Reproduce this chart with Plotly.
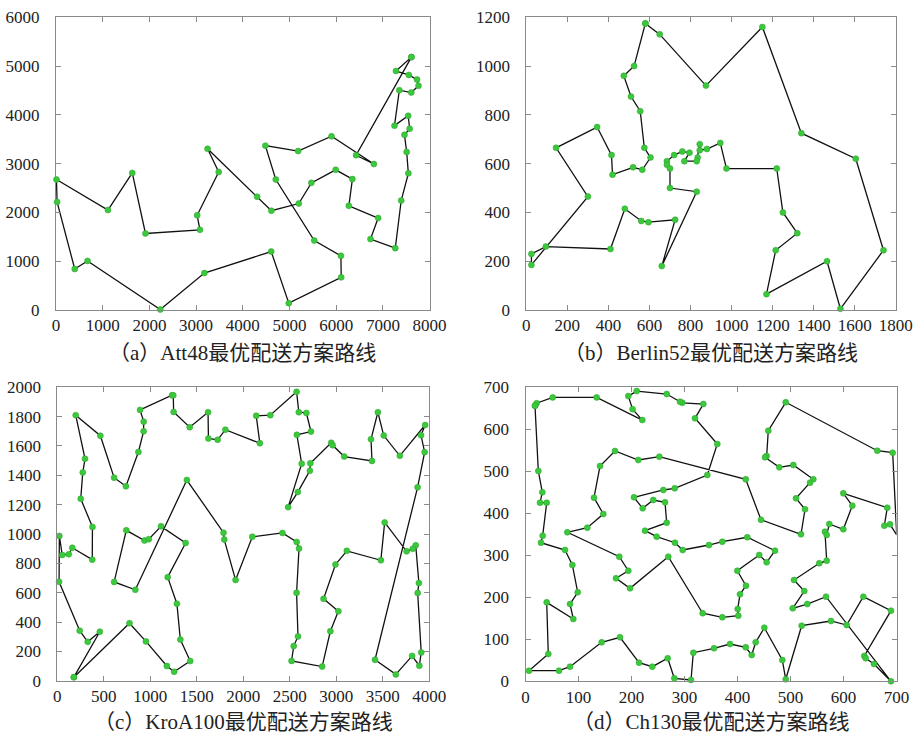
import plotly.graph_objects as go

# ---------------- (a) Att48 : node coordinates (index order) and route ----------------
att48_x = [6734, 2233, 5530, 401, 3082, 7608, 7573, 7265, 6898, 1112, 5468, 5989, 4706, 4612, 6347, 6107,
           7611, 7462, 7732, 5900, 4483, 6101, 5199, 1633, 4307, 675, 7555, 7541, 3177, 7352, 7545, 3245,
           6426, 4608, 23, 7248, 7762, 7392, 3484, 6271, 4985, 1916, 7280, 7509, 10, 6807, 5185, 3023]
att48_y = [1453, 10, 1424, 841, 1644, 4458, 3716, 1268, 1885, 2049, 2606, 2873, 2674, 2035, 2683, 669,
           5184, 3590, 4723, 3561, 3369, 1110, 2182, 2809, 2322, 1006, 4819, 3981, 756, 4506, 2801, 3305,
           3173, 1198, 2216, 3779, 4595, 2244, 2829, 2135, 140, 1569, 4899, 3239, 2676, 2993, 3258, 1942]
att48_route = [17, 43, 27, 19, 37, 6, 30, 36, 28, 7, 18, 44, 31, 38, 8, 1, 9, 40, 15, 12, 11, 23, 14, 25,
               32, 39, 48, 5, 42, 24, 10, 45, 35, 4, 26, 2, 29, 34, 41, 16, 22, 3, 13, 21, 47, 20, 46, 33]

# ---------------- (b) Berlin52 ----------------
berlin_x = [565, 25, 345, 945, 845, 880, 25, 525, 580, 650, 1605, 1220, 1465, 1530, 845, 725, 145, 415,
            510, 560, 300, 520, 480, 835, 975, 1215, 1320, 1250, 660, 410, 420, 575, 1150, 700, 685, 685,
            770, 795, 720, 760, 475, 95, 875, 700, 555, 830, 1170, 830, 605, 595, 1340, 1740]
berlin_y = [575, 185, 750, 685, 655, 660, 230, 1000, 1175, 1130, 620, 580, 200, 5, 680, 370, 665, 635,
            875, 365, 465, 585, 415, 625, 580, 245, 315, 400, 180, 250, 555, 665, 1160, 580, 595, 610,
            610, 645, 635, 650, 960, 260, 920, 500, 815, 485, 65, 610, 625, 360, 725, 245]
berlin_route = [9, 10, 43, 33, 51, 11, 52, 14, 13, 47, 26, 27, 28, 12, 25, 4, 6, 5, 15, 24, 48, 37, 38,
                40, 39, 36, 35, 34, 44, 46, 29, 16, 50, 20, 23, 30, 42, 7, 2, 21, 17, 3, 18, 31, 22, 1,
                49, 32, 45, 19, 41, 8]

# ---------------- (c) KroA100 ----------------
kro_x = [1380, 2848, 3510, 457, 3888, 984, 2721, 1286, 2716, 738, 1251, 2728, 3815, 3683, 1247, 123,
         1234, 252, 611, 2576, 928, 53, 1807, 274, 2574, 178, 2678, 1795, 3384, 3520, 1256, 1424, 3913,
         3085, 2573, 463, 3875, 298, 3479, 2542, 3955, 1323, 3447, 2936, 1621, 3373, 1393, 3874, 938,
         3022, 2482, 3854, 376, 2519, 2945, 953, 2628, 2097, 890, 2139, 2421, 2290, 1115, 2588, 327,
         241, 1917, 2991, 2573, 19, 3911, 872, 2863, 929, 839, 3893, 2178, 3822, 378, 1178, 2599, 3416,
         2961, 611, 3113, 2597, 2586, 161, 1429, 742, 1625, 1187, 1787, 22, 3640, 3756, 776, 1724, 198,
         3950]
kro_y = [939, 96, 1671, 334, 666, 965, 1482, 525, 1432, 1325, 1832, 1698, 169, 1533, 1945, 862, 1946,
         1240, 673, 1676, 1700, 857, 1711, 1420, 946, 24, 1825, 962, 1498, 1079, 61, 1728, 192, 1528,
         1969, 1670, 598, 1513, 821, 236, 1743, 280, 1830, 337, 1830, 1646, 1368, 1318, 955, 474, 1183,
         923, 825, 135, 1622, 268, 1479, 981, 1846, 1806, 1007, 1810, 1052, 302, 265, 341, 687, 792,
         599, 674, 1673, 1559, 558, 1766, 620, 102, 1619, 899, 1048, 100, 901, 143, 1605, 1384, 885,
         1830, 1286, 906, 134, 1025, 1651, 706, 1009, 987, 43, 882, 392, 1642, 1810, 1558]
kro_route = [26, 4, 65, 66, 70, 94, 22, 16, 88, 53, 79, 18, 24, 38, 99, 36, 84, 10, 72, 21, 74, 59, 17,
             15, 11, 32, 45, 91, 98, 23, 77, 60, 62, 35, 86, 27, 12, 20, 57, 51, 87, 9, 7, 55, 83, 34,
             29, 46, 43, 3, 14, 41, 71, 100, 48, 82, 95, 13, 76, 33, 37, 5, 52, 78, 96, 30, 39, 85, 68,
             73, 50, 44, 2, 54, 40, 64, 69, 81, 25, 61, 58, 67, 28, 93, 47, 75, 19, 90, 49, 6, 63, 1,
             92, 8, 42, 89, 31, 80, 56, 97]

# ---------------- (d) Ch130 (route order) ----------------
ch_x = [17.9, 24.2, 31.7, 27.4, 40, 32.4, 29.2, 74.5, 88.4, 98.5, 84, 90.2, 40, 43, 6.6, 63.2, 84,
        143.7, 178.3, 214.2, 239.3, 268.3, 280.8, 312.3, 316.6, 355.7, 385.8, 415.5, 426.8, 434.3,
        450.6, 484.5, 491, 521.1, 576.4, 606, 637.4, 689.6, 639.2, 641.9, 657.5, 689.6, 567, 531.7,
        504.2, 526, 506.6, 554.3, 568.3, 565, 568.3, 573.2, 599.6, 616.6, 599.6, 682.6, 677, 687.7,
        700.4, 692.8, 663.8, 491, 458.1, 455, 451.9, 478.9, 505.3, 543, 536.8, 510.4, 527.4, 519.8,
        444.3, 415.5, 252.5, 212.8, 168.9, 140.6, 129.2, 146.8, 116.6, 78.9, 177, 194, 170.8, 197.2,
        269.4, 334.3, 371.3, 401.5, 400.4, 404.7, 416, 399.6, 441, 455, 470.8, 418.5, 371.3, 346.2,
        296.6, 282, 247.5, 225.5, 266.4, 263.2, 241.1, 221.1, 204.7, 260, 281.5, 343, 361.9, 319.8,
        335.5, 295.8, 291.5, 266.4, 209.8, 194, 202, 220.4, 134.3, 51.3, 21]
ch_y = [656.2, 500.7, 450, 425.2, 425.2, 346.7, 330, 312.6, 277, 212, 184, 148.3, 188, 65, 25.2, 25.2,
        34.8, 92.8, 104.8, 44.3, 34.8, 54.8, 7.1, 3.1, 68.1, 78.6, 88.8, 80.9, 62.6, 92.8,
        127.6, 50.7, 4.8, 132.4, 143.6, 134, 201.4, 168.1, 60.2, 54.8, 41.2, 0, 201.4, 184,
        173.8, 215, 241.2, 281, 287.2, 356.2, 348.3, 374.5, 361.9, 418.1, 447.6, 413.3, 370.5, 373.8,
        348.3, 544.3, 549, 664.3, 596.7, 536.4, 533.3, 509.5, 515, 480.9, 472.9, 435.7, 409.5, 350,
        384.5, 480.9, 534.8, 526.9, 548.3, 512.6, 437.2, 398.3, 365.7, 354.8, 296.7, 263.3, 245.2, 221.4,
        296.7, 162, 152.4, 156.2, 172.1, 207.1, 227.6, 263.3, 300.7, 283.3, 311, 342.9, 332.4, 324.5,
        312.6, 330, 344.3, 358.6, 377.6, 426.2, 431.7, 411.9, 438.1, 455.5, 459.5, 491.2, 565, 626.2,
        660.2, 663, 665.7, 684, 691, 679, 648, 622, 676, 676, 662]

captions = ["（a）Att48最优配送方案路线", "（b）Berlin52最优配送方案路线",
            "（c）KroA100最优配送方案路线", "（d）Ch130最优配送方案路线"]


def route_xy(xs, ys, route):
    rx = [xs[i - 1] for i in route] + [xs[route[0] - 1]]
    ry = [ys[i - 1] for i in route] + [ys[route[0] - 1]]
    return rx, ry


W, H = 920, 734
# pixel boxes of the four axes (left, right, top, bottom)
boxes = [(56.0, 429.6, 17.3, 310.0), (526.3, 895.8, 17.3, 310.0),
         (57.3, 429.3, 387.3, 680.7), (525.5, 896.5, 387.3, 681.3)]
ranges = [((0, 8000), 1000, (0, 6000), 1000), ((0, 1800), 200, (0, 1200), 200),
          ((0, 4000), 500, (0, 2000), 200), ((0, 700), 100, (0, 700), 100)]

series = [route_xy(att48_x, att48_y, att48_route),
          route_xy(berlin_x, berlin_y, berlin_route),
          route_xy(kro_x, kro_y, kro_route),
          (ch_x + [ch_x[0]], ch_y + [ch_y[0]])]

fig = go.Figure()
tickfont = dict(family="Liberation Serif, Times New Roman, serif", size=17, color="#222222")
axis_color = "#8a8a8a"
for k in range(4):
    sx, sy = series[k]
    xa = "x" if k == 0 else f"x{k+1}"
    ya = "y" if k == 0 else f"y{k+1}"
    fig.add_trace(go.Scatter(x=sx, y=sy, mode="lines+markers", xaxis=xa, yaxis=ya,
                             line=dict(color="#111111", width=1.3),
                             marker=dict(color="#3cc83c", size=6,
                                         line=dict(color="#2aa02a", width=0.5)),
                             showlegend=False, hoverinfo="skip", cliponaxis=False))
    l, r, t, b = boxes[k]
    (xr, xd, yr, yd) = ranges[k]
    xname = "xaxis" if k == 0 else f"xaxis{k+1}"
    yname = "yaxis" if k == 0 else f"yaxis{k+1}"
    fig.layout[xname] = dict(domain=[l / W, r / W], range=list(xr), dtick=xd, tick0=0,
                             anchor=ya, showgrid=False, zeroline=False, showline=True,
                             linecolor=axis_color, linewidth=1, mirror="ticks",
                             ticks="inside", ticklen=5, tickcolor=axis_color,
                             tickfont=tickfont, fixedrange=True, automargin=False,
                             ticklabelstandoff=0)
    fig.layout[yname] = dict(domain=[1 - b / H, 1 - t / H], range=list(yr), dtick=yd, tick0=0,
                             anchor=xa, showgrid=False, zeroline=False, showline=True,
                             linecolor=axis_color, linewidth=1, mirror="ticks",
                             ticks="inside", ticklen=5, tickcolor=axis_color,
                             tickfont=tickfont, fixedrange=True, automargin=False,
                             ticklabelstandoff=12)
    cy = 353 if k < 2 else 722
    fig.add_annotation(x=(l + r) / 2 / W, y=1 - cy / H, xref="paper", yref="paper",
                       text=captions[k], showarrow=False, xanchor="center", yanchor="middle",
                       font=dict(family="Liberation Serif, Noto Sans CJK SC", size=21,
                                 color="#222222"))

fig.update_layout(width=W, height=H, margin=dict(l=0, r=0, t=0, b=0, autoexpand=False),
                  paper_bgcolor="white", plot_bgcolor="white")
# remove the browser's default 8px page margin so the figure sits at the window origin
fig.write_html("out.html", config={"displayModeBar": False},
               post_script="document.body.style.margin='0px';")
